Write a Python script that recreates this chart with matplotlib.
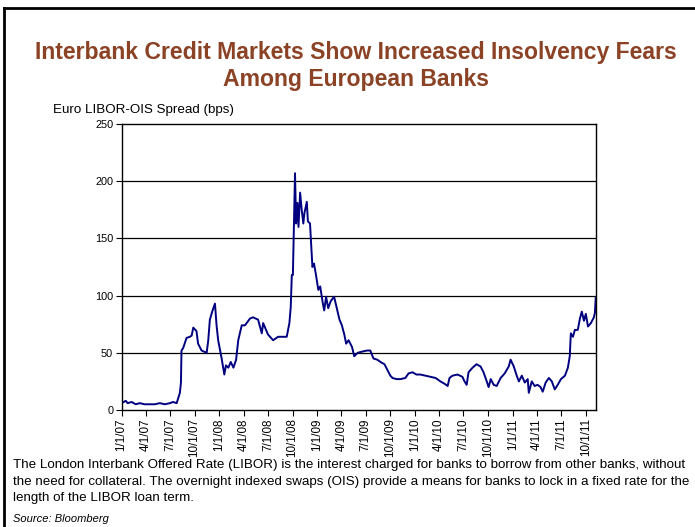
import numpy as np
import pandas as pd
import matplotlib
matplotlib.use("Agg")
import matplotlib.pyplot as plt
import matplotlib.dates as mdates
from matplotlib.lines import Line2D

# Euro LIBOR-OIS spread (bps)
dates = [
    "2007-01-01", "2007-01-09", "2007-01-17", "2007-01-24", "2007-02-08", "2007-02-23",
    "2007-03-10", "2007-03-28", "2007-04-17", "2007-05-05", "2007-05-24", "2007-06-12",
    "2007-07-01", "2007-07-12", "2007-07-26", "2007-08-07", "2007-08-11", "2007-08-13",
    "2007-08-19", "2007-08-26", "2007-09-01", "2007-09-13", "2007-09-20", "2007-09-26",
    "2007-10-08", "2007-10-14", "2007-10-27", "2007-11-15", "2007-11-21", "2007-11-27",
    "2007-12-07", "2007-12-16", "2007-12-22", "2007-12-28", "2008-01-10", "2008-01-20",
    "2008-01-26", "2008-02-04", "2008-02-13", "2008-02-23", "2008-03-04", "2008-03-12",
    "2008-03-25", "2008-04-06", "2008-04-25", "2008-05-06", "2008-05-25", "2008-06-08",
    "2008-06-13", "2008-07-01", "2008-07-20", "2008-08-08", "2008-09-09", "2008-09-19",
    "2008-09-24", "2008-09-28", "2008-10-02", "2008-10-07", "2008-10-10", "2008-10-14",
    "2008-10-19", "2008-10-23", "2008-10-29", "2008-11-04", "2008-11-10", "2008-11-14",
    "2008-11-23", "2008-11-27", "2008-12-05", "2008-12-09", "2008-12-14", "2008-12-20",
    "2008-12-28", "2009-01-05", "2009-01-12", "2009-01-22", "2009-01-27", "2009-02-03",
    "2009-02-11", "2009-02-20", "2009-03-05", "2009-03-15", "2009-03-25", "2009-04-03",
    "2009-04-12", "2009-04-19", "2009-04-28", "2009-05-11", "2009-05-19", "2009-06-01",
    "2009-06-17", "2009-07-06", "2009-07-18", "2009-07-30", "2009-08-13", "2009-08-25",
    "2009-09-09", "2009-09-20", "2009-10-01", "2009-10-09", "2009-10-24", "2009-11-08",
    "2009-11-26", "2009-12-08", "2009-12-23", "2010-01-06", "2010-01-21", "2010-02-09",
    "2010-02-28", "2010-03-19", "2010-04-06", "2010-04-21", "2010-05-03", "2010-05-10",
    "2010-05-21", "2010-06-09", "2010-06-27", "2010-07-05", "2010-07-13", "2010-07-20",
    "2010-08-04", "2010-08-19", "2010-09-03", "2010-09-14", "2010-09-26", "2010-10-03",
    "2010-10-11", "2010-10-22", "2010-11-02", "2010-11-17", "2010-12-02", "2010-12-17",
    "2010-12-24", "2011-01-05", "2011-01-16", "2011-01-24", "2011-02-04", "2011-02-15",
    "2011-02-26", "2011-03-02", "2011-03-13", "2011-03-24", "2011-04-04", "2011-04-15",
    "2011-04-23", "2011-05-04", "2011-05-16", "2011-05-27", "2011-06-07", "2011-06-18",
    "2011-06-30", "2011-07-15", "2011-07-26", "2011-08-02", "2011-08-06", "2011-08-14",
    "2011-08-21", "2011-09-01", "2011-09-09", "2011-09-16", "2011-09-24", "2011-10-01",
    "2011-10-09", "2011-10-20", "2011-10-31", "2011-11-04", "2011-11-07",
]
spread = [
    6, 7, 8, 6, 7, 5,
    6, 5, 5, 5, 6, 5,
    6, 7, 6, 15, 24, 52,
    54, 59, 63, 64, 65, 72,
    69, 58, 52, 50, 61, 79,
    87, 93, 74, 61, 45, 31,
    39, 37, 42, 37, 44, 61,
    74, 74, 80, 81, 79, 67,
    76, 66, 61, 64, 64, 76,
    90, 118, 118, 175, 207, 163,
    181, 160, 190, 175, 163, 172,
    182, 165, 163, 146, 125, 128,
    117, 105, 108, 93, 87, 99,
    89, 95, 99, 89, 79, 74,
    66, 58, 61, 55, 47, 50,
    51, 52, 52, 45, 44, 42,
    40, 35, 30, 28, 27, 27,
    28, 32, 33, 31, 31, 30,
    29, 28, 25, 23, 21, 28,
    30, 31, 29, 25, 22, 33,
    37, 40, 38, 33, 25, 20,
    27, 22, 21, 28, 32, 38,
    44, 38, 30, 25, 30, 24,
    27, 15, 25, 21, 22, 20,
    16, 24, 28, 25, 18, 22,
    27, 30, 37, 47, 67, 64,
    70, 70, 80, 86, 78, 84,
    73, 76, 81, 85, 98,
]
tick_dates = pd.date_range("2007-01-01", "2011-10-01", freq="QS")
tick_labels = ["{}/1/{:02d}".format(d.month, d.year % 100) for d in tick_dates]
y_ticks = [0, 50, 100, 150, 200, 250]

title = "Interbank Credit Markets Show Increased Insolvency Fears\nAmong European Banks"
y_title = "Euro LIBOR-OIS Spread (bps)"
note = ("The London Interbank Offered Rate (LIBOR) is the interest charged for banks to borrow from other banks, without\n"
        "the need for collateral. The overnight indexed swaps (OIS) provide a means for banks to lock in a fixed rate for the\n"
        "length of the LIBOR loan term.")
source = "Source: Bloomberg"

plt.rcParams["font.family"] = ["Liberation Sans", "DejaVu Sans"]

W, H = 695, 527
fig = plt.figure(figsize=(W / 100, H / 100), dpi=100)

# outer frame (only left and top edges visible)
fig.add_artist(Line2D([4 / W, 4 / W], [0, 1 - 8 / H], color="black", lw=2))
fig.add_artist(Line2D([4 / W, 1], [1 - 8 / H, 1 - 8 / H], color="black", lw=2))

fig.text(356 / W, 1 - 66 / H, title, ha="center", va="center", fontsize=16.6,
         fontweight="bold", color="#8B4225", linespacing=1.2)
fig.text(53 / W, 1 - 110 / H, y_title, ha="left", va="center", fontsize=9.6)

left, right, top, bottom = 121.5, 596, 124, 410
ax = fig.add_axes([left / W, 1 - bottom / H, (right - left) / W, (bottom - top) / H])

x = pd.to_datetime(dates)
ax.plot(x, spread, color="#000080", lw=1.4)

ax.set_ylim(0, 250)
ax.set_xlim(pd.Timestamp("2007-01-01"), pd.Timestamp("2011-11-08"))
ax.set_yticks(y_ticks)
ax.set_yticklabels([str(v) for v in y_ticks], fontsize=7.8)
ax.set_xticks(tick_dates)
ax.set_xticklabels(tick_labels, rotation=90, fontsize=8.4)

for v in y_ticks[1:-1]:
    ax.axhline(v, color="black", lw=0.9, zorder=0)

for s in ax.spines.values():
    s.set_color("black")
    s.set_linewidth(1.0)
ax.tick_params(axis="both", direction="out", length=4, width=0.8, pad=2)

fig.text(13 / W, 1 - 481.5 / H, note, ha="left", va="center", fontsize=9.6, linespacing=1.45)
fig.text(13 / W, 1 - 519 / H, source, ha="left", va="center", fontsize=8, style="italic")

fig.savefig("out.png", dpi=100)
